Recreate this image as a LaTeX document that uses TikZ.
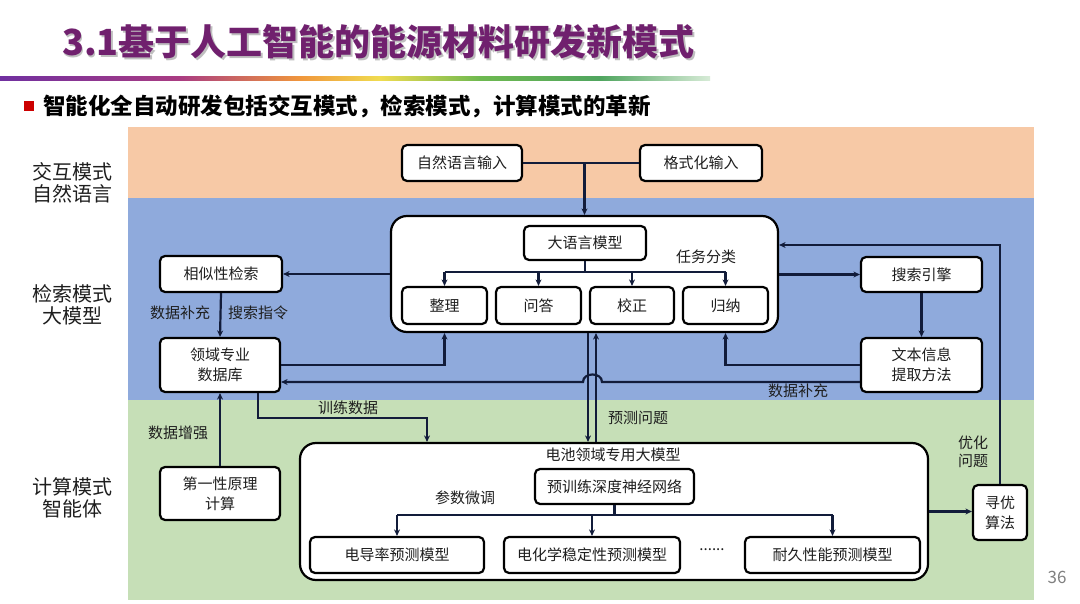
\documentclass[tikz,border=0pt]{standalone}
\usepackage{fontspec}
\setmainfont{Noto Sans CJK SC}
\usetikzlibrary{arrows.meta,calc}
\definecolor{bandO}{RGB}{247,201,166}
\definecolor{bandB}{RGB}{143,170,220}
\definecolor{bandG}{RGB}{198,223,183}
\definecolor{ln}{RGB}{18,28,58}
\definecolor{ttl}{RGB}{112,32,110}
\definecolor{txt}{RGB}{30,30,30}
\begin{document}
\begin{tikzpicture}[x=1pt,y=-1pt,
  box/.style={draw=black, line width=2.2pt, rounded corners=5pt, fill=white, inner sep=0pt, align=center, font=\fontsize{15}{20}\selectfont, text=txt},
  cont/.style={draw=black, line width=2.2pt, rounded corners=16pt, fill=white, inner sep=0pt},
  arr/.style={draw=ln, line width=2.2pt, -{Stealth[length=6.5pt,width=6pt]}},
  con/.style={draw=ln, line width=2.2pt},
  lbl/.style={font=\fontsize{15}{18}\selectfont, text=txt, inner sep=0pt, align=center},
  side/.style={font=\fontsize{20}{22}\selectfont, text=txt, inner sep=0pt, align=center}]
\useasboundingbox (0,0) rectangle (1080,604);
\fill[white] (0,0) rectangle (1080,604);
% bands
\fill[bandO] (128,127) rectangle (1034,198);
\fill[bandB] (128,198) rectangle (1034,400);
\fill[bandG] (128,400) rectangle (1034,600);
% title
\node[font=\fontsize{36}{40}\selectfont\bfseries, text=black!25, anchor=west, inner sep=0pt] (titleshadow) at (63.5,43.5) {3.1基于人工智能的能源材料研发新模式};
\node[font=\fontsize{36}{40}\selectfont\bfseries, text=ttl, anchor=west, inner sep=0pt] (title) at (62,42) {3.1基于人工智能的能源材料研发新模式};
% gradient line
\shade[left color={rgb,255:red,112;green,48;blue,160}, right color={rgb,255:red,170;green,60;blue,130}] (0,77) rectangle (180,81);
\shade[left color={rgb,255:red,170;green,60;blue,130}, right color={rgb,255:red,240;green,150;blue,60}] (180,77) rectangle (300,81);
\shade[left color={rgb,255:red,240;green,150;blue,60}, right color={rgb,255:red,240;green,220;blue,80}] (300,77) rectangle (380,81);
\shade[left color={rgb,255:red,240;green,220;blue,80}, right color={rgb,255:red,110;green,185;blue,80}] (380,77) rectangle (480,81);
\shade[left color={rgb,255:red,110;green,185;blue,80}, right color={rgb,255:red,80;green,165;blue,95}] (480,77) rectangle (600,81);
\shade[left color={rgb,255:red,80;green,165;blue,95}, right color={rgb,255:red,215;green,235;blue,215}] (600,77) rectangle (710,81);
% subtitle
\fill[red!80!black] (24,101) rectangle (34,111);
\node[font=\fontsize{22.5}{26}\selectfont\bfseries, anchor=west, inner sep=0pt] (sub) at (43,106) {智能化全自动研发包括交互模式，检索模式，计算模式的革新};
% side labels
\node[side] (l1) at (72,183) {交互模式\\自然语言};
\node[side] (l2) at (72,305) {检索模式\\大模型};
\node[side] (l3) at (72,498) {计算模式\\智能体};
% page number
\node[text=gray, font=\fontsize{17}{20}\selectfont, inner sep=0pt] (pg) at (1057,577) {36};
% containers
\node[cont, minimum width=387pt, minimum height=116pt] (llmc) at (584.5,274) {};
\node[cont, minimum width=628pt, minimum height=137pt] (dyc) at (614,511.5) {};
% top boxes
\node[box, minimum width=120pt, minimum height=36pt] (nl) at (462,163) {自然语言输入};
\node[box, minimum width=122pt, minimum height=36pt] (fmt) at (701,163) {格式化输入};
% llm boxes
\node[box, minimum width=122pt, minimum height=34pt] (llm) at (585,243) {大语言模型};
\node[box, minimum width=85pt, minimum height=37pt] (zl) at (444.5,305.5) {整理};
\node[box, minimum width=85pt, minimum height=37pt] (wd) at (538.5,305.5) {问答};
\node[box, minimum width=84pt, minimum height=37pt] (jz) at (632,305.5) {校正};
\node[box, minimum width=85pt, minimum height=37pt] (gn) at (725.5,305.5) {归纳};
\node[lbl] (rwfl) at (706,257) {任务分类};
% left boxes
\node[box, minimum width=122pt, minimum height=36pt] (xs) at (221,274) {相似性检索};
\node[box, minimum width=120pt, minimum height=54pt] (db) at (220,365) {领域专业\\数据库};
\node[box, minimum width=120pt, minimum height=53pt] (dyx) at (220,493.5) {第一性原理\\计算};
% right boxes
\node[box, minimum width=121pt, minimum height=35pt] (ss) at (921.5,274.5) {搜索引擎};
\node[box, minimum width=121pt, minimum height=54pt] (wb) at (921.5,365) {文本信息\\提取方法};
\node[box, minimum width=54pt, minimum height=55pt] (xy) at (1000,512.5) {寻优\\算法};
% bottom container content
\node[lbl] (dctitle) at (613,455) {电池领域专用大模型};
\node[box, minimum width=159pt, minimum height=35pt] (yx) at (614.5,486.5) {预训练深度神经网络};
\node[lbl] (cswt) at (465,498) {参数微调};
\node[box, minimum width=174pt, minimum height=36pt] (ddl) at (397,555) {电导率预测模型};
\node[box, minimum width=176pt, minimum height=36pt] (dhx) at (592,555) {电化学稳定性预测模型};
\node[box, minimum width=175pt, minimum height=36pt] (njx) at (832.5,555) {耐久性能预测模型};
\node[lbl] (dots) at (712,550) {......};
% labels on connectors
\node[lbl] (sjbc1) at (180,313) {数据补充};
\node[lbl] (sszl) at (258,313) {搜索指令};
\node[lbl] (sjbc2) at (798,391) {数据补充};
\node[lbl] (xlsj) at (348,408) {训练数据};
\node[lbl] (ycwt) at (638,418) {预测问题};
\node[lbl] (sjzq) at (178,433) {数据增强};
\node[lbl] (yhwt) at (973,452) {优化\\问题};
% helper coordinates
\coordinate (br) at (585,272);
\coordinate (bb) at (614.5,515);
\coordinate (v1) at (588,0);
\coordinate (v2) at (596,0);
\coordinate (tdx) at (258,0);
\coordinate (tdy) at (427,418);
\coordinate (hopR) at (602,382);
\coordinate (hopL) at (583,382);
% connectors: input
\draw[con] (nl.east) -- (fmt.west);
\draw[arr] (nl.east -| llmc.north) -- (llmc.north);
% llm branch
\draw[con] (llm.south) -- (br);
\draw[con] (zl.north |- br) -- (gn.north |- br);
\draw[arr] (zl.north |- br) -- (zl.north);
\draw[arr] (wd.north |- br) -- (wd.north);
\draw[arr] (jz.north |- br) -- (jz.north);
\draw[arr] (gn.north |- br) -- (gn.north);
% left side
\draw[arr] (llmc.west |- xs.east) -- (xs.east);
\draw[arr] (xs.south) -- (db.north);
\draw[arr] (db.east) -| (zl.south |- llmc.south);
\draw[arr] (dyx.north) -- (db.south);
\draw[arr] (db.south -| tdx) |- (tdy) -- (tdy |- dyc.north);
% right side
\draw[arr] (llmc.east |- ss.west) -- (ss.west);
\draw[arr] (ss.south) -- (wb.north);
\draw[arr] (wb.west) -| (gn.south |- llmc.south);
\draw[arr] ($(wb.west)+(0,17)$) -- (hopR) .. controls (602,372) and (583,372) .. (hopL) -- ($(db.east)+(0,17)$);
% prediction verticals
\draw[arr] (llmc.south -| v1) -- (dyc.north -| v1);
\draw[arr] (dyc.north -| v2) -- (llmc.south -| v2);
% optimisation
\draw[arr] (dyc.east) -- (dyc.east -| xy.west);
\draw[arr] (xy.north) |- ([yshift=29pt]llmc.east);
% bottom branch
\draw[con] (yx.south) -- (bb);
\draw[con] (ddl.north |- bb) -- (njx.north |- bb);
\draw[arr] (ddl.north |- bb) -- (ddl.north);
\draw[arr] (dhx.north |- bb) -- (dhx.north);
\draw[arr] (njx.north |- bb) -- (njx.north);
\end{tikzpicture}
\end{document}
